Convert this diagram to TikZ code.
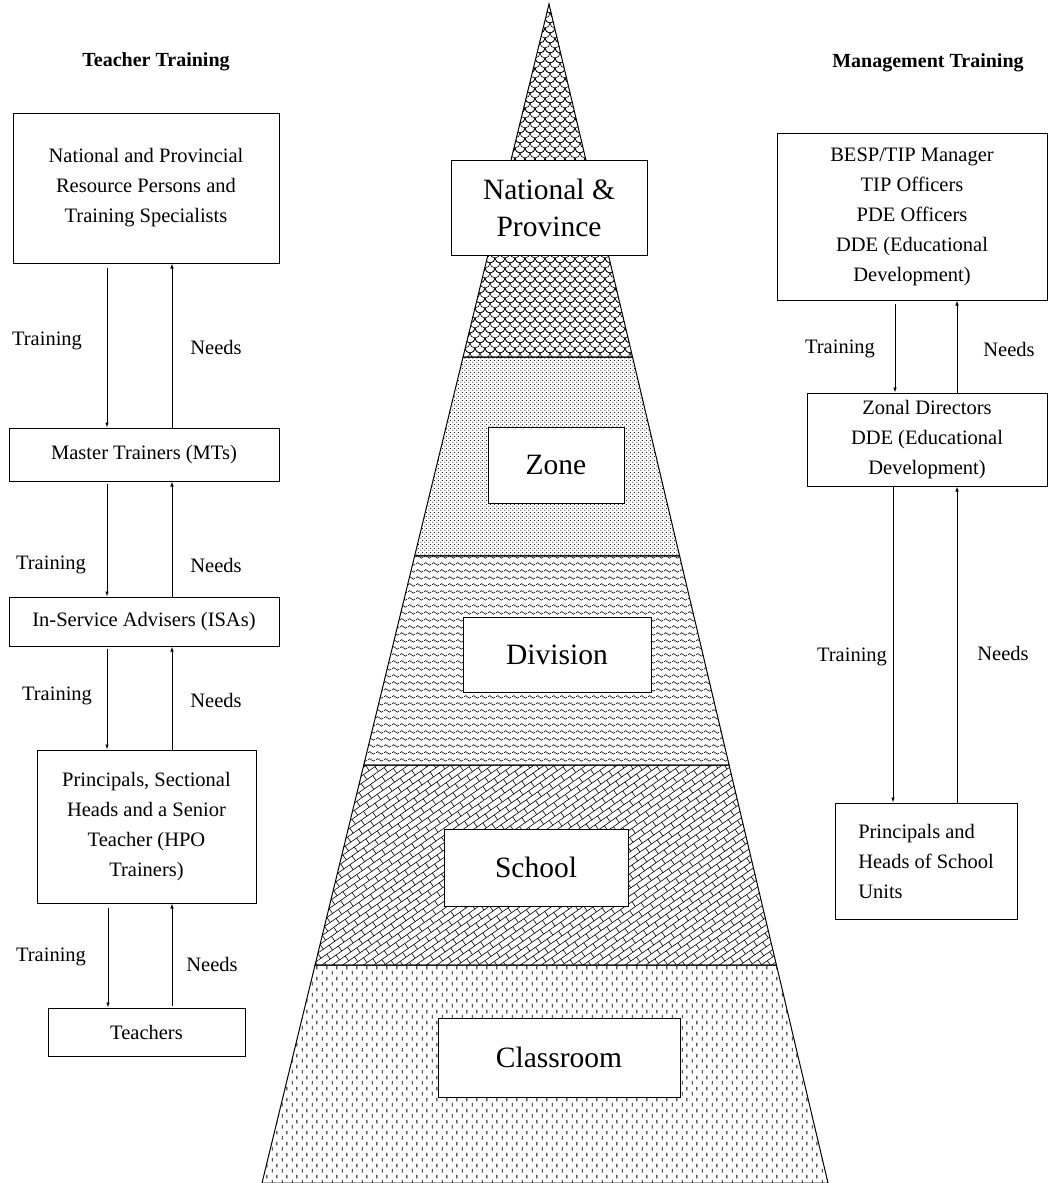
\documentclass[tikz,border=0pt]{standalone}
\usepackage{fontspec}
\setmainfont{Liberation Serif}
\usetikzlibrary{patterns.meta,calc,arrows.meta}

% --- fill patterns for the five levels of the pyramid ---
\tikzdeclarepattern{
  name=shingle,
  bounding box={(-5.5pt,-0.5pt) and (15.5pt,10.5pt)},
  tile size={(10pt,10pt)},
  code={
    \draw[line width=0.6pt] (0pt,10pt) arc[start angle=180,end angle=360,radius=5pt];
    \draw[line width=0.6pt] (-5pt,5pt) arc[start angle=180,end angle=360,radius=5pt];
    \draw[line width=0.6pt] (5pt,5pt) arc[start angle=180,end angle=360,radius=5pt];
  }
}
\tikzdeclarepattern{
  name=smalldots,
  bounding box={(0pt,0pt) and (4pt,4pt)},
  tile size={(4pt,4pt)},
  code={
    \fill (1pt,1pt) circle[radius=0.65pt];
    \fill (3pt,3pt) circle[radius=0.65pt];
  }
}
\tikzdeclarepattern{
  name=wavelines,
  bounding box={(0pt,0pt) and (8pt,7pt)},
  tile size={(8pt,7pt)},
  code={
    \draw[line width=0.6pt] (0pt,3.5pt) sin (2pt,5pt) cos (4pt,3.5pt) sin (6pt,2pt) cos (8pt,3.5pt);
  }
}
\tikzdeclarepattern{
  name=diagbrick,
  bounding box={(-0.5pt,-0.5pt) and (14.5pt,12.5pt)},
  tile size={(14pt,12pt)},
  tile transformation={rotate=35},
  code={
    \draw[line width=0.6pt] (0pt,0pt) -- (14pt,0pt);
    \draw[line width=0.6pt] (0pt,6pt) -- (14pt,6pt);
    \draw[line width=0.6pt] (0pt,0pt) -- (0pt,6pt);
    \draw[line width=0.6pt] (7pt,6pt) -- (7pt,12pt);
  }
}
\tikzdeclarepattern{
  name=vdashes,
  bounding box={(0pt,0pt) and (10pt,11pt)},
  tile size={(10pt,11pt)},
  code={
    \draw[line width=1pt] (2.5pt,0.5pt) -- (2.5pt,4.5pt);
    \draw[line width=1pt] (7.5pt,6pt) -- (7.5pt,10pt);
  }
}

\tikzset{
  box/.style={draw, line width=1pt, fill=white, align=center, inner sep=0pt,
    font=\fontsize{20.5}{30}\selectfont},
  lvl/.style={draw, line width=1pt, fill=white, align=center, inner sep=0pt,
    font=\fontsize{29.5}{37}\selectfont},
  lab/.style={font=\fontsize{20.5}{24}\selectfont},
  ttl/.style={font=\bfseries\fontsize{20}{24}\selectfont},
  arr/.style={line width=0.8pt, -{Latex[length=5pt,width=3.5pt]}},
  band/.style={draw, line width=1pt},
}

\begin{document}
\begin{tikzpicture}[x=1pt,y=-1pt]
\fill[white] (0,0) rectangle (1053,1183);
\useasboundingbox (0,0) rectangle (1053,1183);

% ---------- pyramid ----------
\coordinate (apex) at (549,4);
\coordinate (bl) at (262,1183);
\coordinate (br) at (828,1183);
\coordinate (l1) at ($(apex)!0.29941!(bl)$);
\coordinate (r1) at ($(apex)!0.29941!(br)$);
\coordinate (l2) at ($(apex)!0.46819!(bl)$);
\coordinate (r2) at ($(apex)!0.46819!(br)$);
\coordinate (l3) at ($(apex)!0.64546!(bl)$);
\coordinate (r3) at ($(apex)!0.64546!(br)$);
\coordinate (l4) at ($(apex)!0.81510!(bl)$);
\coordinate (r4) at ($(apex)!0.81510!(br)$);

\draw[band, pattern=shingle]   (apex) -- (r1) -- (l1) -- cycle;
\draw[band, pattern=smalldots] (l1) -- (r1) -- (r2) -- (l2) -- cycle;
\draw[band, pattern=wavelines] (l2) -- (r2) -- (r3) -- (l3) -- cycle;
\draw[band, pattern=diagbrick] (l3) -- (r3) -- (r4) -- (l4) -- cycle;
\draw[band, pattern=vdashes]   (l4) -- (r4) -- (br) -- (bl) -- cycle;

\node[lvl, minimum width=196pt, minimum height=95pt] (nat) at (549,207.5) {National \&\\Province};
\node[lvl, minimum width=136pt, minimum height=76pt] (zone) at (556,465) {Zone};
\node[lvl, minimum width=188pt, minimum height=75pt] (div) at (557,654.5) {Division};
\node[lvl, minimum width=184pt, minimum height=77pt] (sch) at (536,867.5) {School};
\node[lvl, minimum width=242pt, minimum height=79pt] (cls) at (559,1057.5) {Classroom};

% ---------- teacher training column ----------
\node[ttl] (tt) at (156,62) {Teacher Training};

\node[box, minimum width=266pt, minimum height=150pt] (t1) at (146,188)
  {National and Provincial\\Resource Persons and\\Training Specialists};
\node[box, minimum width=270pt, minimum height=53pt] (t2) at (144,454.5)
  {Master Trainers (MTs)};
\node[box, minimum width=270pt, minimum height=49pt] (t3) at (144,621.5)
  {In-Service Advisers (ISAs)};
\node[box, minimum width=219pt, minimum height=153pt] (t4) at (146.5,826.5)
  {Principals, Sectional\\Heads and a Senior\\Teacher (HPO\\Trainers)};
\node[box, minimum width=197pt, minimum height=48pt] (t5) at (146.5,1032)
  {Teachers};

\draw[arr, shorten <=4pt] (t1.south -| 107,0) -- (t2.north -| 107,0);
\draw[arr] (t2.north -| 172,0) -- (t1.south -| 172,0);
\draw[arr, shorten <=2pt] (t2.south -| 107,0) -- (t3.north -| 107,0);
\draw[arr] (t3.north -| 172,0) -- (t2.south -| 172,0);
\draw[arr, shorten <=2pt] (t3.south -| 107,0) -- (t4.north -| 107,0);
\draw[arr] (t4.north -| 172,0) -- (t3.south -| 172,0);
\draw[arr, shorten <=4pt] (t4.south -| 108,0) -- (t5.north -| 108,0);
\draw[arr, shorten <=2pt] (t5.north -| 172,0) -- (t4.south -| 172,0);

\node[lab] (tr1) at (47,341) {Training};
\node[lab] (nd1) at (216,347) {Needs};
\node[lab] (tr2) at (51,565) {Training};
\node[lab] (nd2) at (216,565) {Needs};
\node[lab] (tr3) at (57,696) {Training};
\node[lab] (nd3) at (216,700) {Needs};
\node[lab] (tr4) at (51,957) {Training};
\node[lab] (nd4) at (212,964) {Needs};

% ---------- management training column ----------
\node[ttl] (mt) at (928,63) {Management Training};

\node[box, minimum width=270pt, minimum height=167pt] (m1) at (912,216.5)
  {BESP/TIP Manager\\TIP Officers\\PDE Officers\\DDE (Educational\\Development)};
\node[box, minimum width=240pt, minimum height=93pt] (m2) at (927,439.5)
  {Zonal Directors\\DDE (Educational\\Development)};
\node[box, align=left, minimum width=182pt, minimum height=116pt] (m3) at (926,861)
  {Principals and\\Heads of School\\Units};

\draw[arr, shorten <=3pt] (m1.south -| 895,0) -- (m2.north -| 895,0);
\draw[arr] (m2.north -| 957,0) -- (m1.south -| 957,0);
\draw[arr] (m2.south -| 893,0) -- (m3.north -| 893,0);
\draw[arr] (m3.north -| 957,0) -- (m2.south -| 957,0);

\node[lab] (mtr1) at (840,349) {Training};
\node[lab] (mnd1) at (1009,349) {Needs};
\node[lab] (mtr2) at (852,657) {Training};
\node[lab] (mnd2) at (1003,653) {Needs};
\end{tikzpicture}
\end{document}
